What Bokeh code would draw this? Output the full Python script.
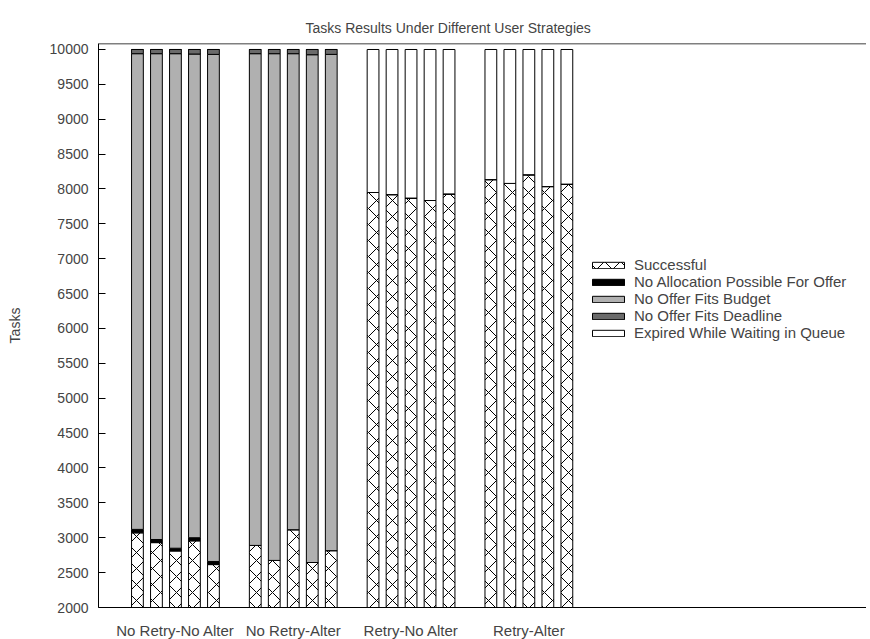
import numpy as np
from bokeh.plotting import figure
from bokeh.models import FixedTicker, Span, Legend, LegendItem, Range1d, ColumnDataSource
from bokeh.embed import file_html
from bokeh.resources import INLINE

# ---- data -------------------------------------------------------------
strategies = ["No Retry-No Alter", "No Retry-Alter", "Retry-No Alter", "Retry-Alter"]
series_names = ["Successful", "No Allocation Possible For Offer", "No Offer Fits Budget",
                "No Offer Fits Deadline", "Expired While Waiting in Queue"]

successful = [3070, 2930, 2810, 2955, 2615,
              2890, 2675, 3115, 2645, 2815,
              7950, 7920, 7870, 7835, 7930,
              8135, 8080, 8205, 8035, 8070]
no_allocation = [50, 45, 40, 45, 45,
                 0, 0, 0, 0, 0,
                 0, 0, 0, 0, 0,
                 0, 0, 0, 0, 0]
no_deadline = [60, 60, 60, 65, 70,
               60, 60, 60, 75, 70,
               0, 0, 0, 0, 0,
               0, 0, 0, 0, 0]
expired = [0, 0, 0, 0, 0,
           0, 0, 0, 0, 0,
           2050, 2080, 2130, 2165, 2070,
           1865, 1920, 1795, 1965, 1930]
total_tasks = 10000
no_budget = [total_tasks - s - a - d - e for s, a, d, e in
             zip(successful, no_allocation, no_deadline, expired)]

y_ticks = list(range(2000, 10001, 500))
runs_per_group = 5

# ---- layout -----------------------------------------------------------
GROUP_STEP = 6.2
BAR_W = 0.62
FONT = "Liberation Sans"

n = len(successful)
xs = [(i // runs_per_group) * GROUP_STEP + (i % runs_per_group) for i in range(n)]
group_centers = [g * GROUP_STEP + (runs_per_group - 1) / 2 for g in range(len(strategies))]

layers = [np.array(successful), np.array(no_allocation), np.array(no_budget),
          np.array(no_deadline), np.array(expired)]
fills = ["white", "black", "#b0b0b0", "#6a6a6a", "white"]
hatches = ["x", None, None, None, None]

p = figure(frame_width=768, frame_height=564, output_backend="svg", toolbar_location=None,
           x_range=Range1d(-2.05, 38.37), y_range=Range1d(2000, 10086),
           min_border_left=98, min_border_right=0, min_border_top=43, min_border_bottom=32)

p.title.text = "Tasks Results Under Different User Strategies"
p.title.text_font = FONT
p.title.text_font_size = "14px"
p.title.text_font_style = "normal"
p.title.align = "left"
p.title.offset = 207
p.title.standoff = 16

p.outline_line_color = None
p.grid.visible = False

bottom = np.zeros(n)
items = []
for name, vals, fc, h in zip(series_names, layers, fills, hatches):
    top = bottom + vals
    src = ColumnDataSource(dict(x=xs, bottom=bottom.tolist(), top=top.tolist()))
    kw = dict(x="x", bottom="bottom", top="top", width=BAR_W, source=src,
              fill_color=fc, line_color="black", line_width=1)
    if h:
        kw.update(hatch_pattern=h, hatch_color="black", hatch_scale=16, hatch_weight=1)
    r = p.vbar(**kw)
    items.append(LegendItem(label=name, renderers=[r]))
    bottom = top

p.add_layout(Span(location=10086, dimension="width", line_color="black", line_width=1.5))

# y axis
p.yaxis.ticker = FixedTicker(ticks=y_ticks)
p.yaxis.major_tick_in = 7
p.yaxis.major_tick_out = 0
p.yaxis.minor_tick_line_color = None
p.yaxis.major_label_standoff = 10
p.yaxis.axis_label = "Tasks"
p.yaxis.axis_label_text_font = FONT
p.yaxis.axis_label_text_font_size = "14px"
p.yaxis.axis_label_text_font_style = "normal"
p.yaxis.axis_label_standoff = 24
p.yaxis.major_label_text_font = FONT
p.yaxis.major_label_text_font_size = "14px"
p.yaxis.axis_line_color = "black"

# x axis
p.xaxis.ticker = FixedTicker(ticks=group_centers)
p.xaxis.major_label_overrides = {c: s for c, s in zip(group_centers, strategies)}
p.xaxis.major_tick_in = 0
p.xaxis.major_tick_out = 0
p.xaxis.minor_tick_line_color = None
p.xaxis.major_label_standoff = 14
p.xaxis.major_label_text_font = FONT
p.xaxis.major_label_text_font_size = "15px"
p.xaxis.axis_line_color = "black"

legend = Legend(items=items, location=(490, 266), glyph_width=40, glyph_height=8,
                label_height=14, spacing=0, padding=5, label_standoff=6,
                label_text_font=FONT, label_text_font_size="15px",
                label_text_line_height=0.9,
                border_line_color=None, background_fill_alpha=0)
p.add_layout(legend, "center")

open("out.html", "w").write(file_html(p, INLINE))
